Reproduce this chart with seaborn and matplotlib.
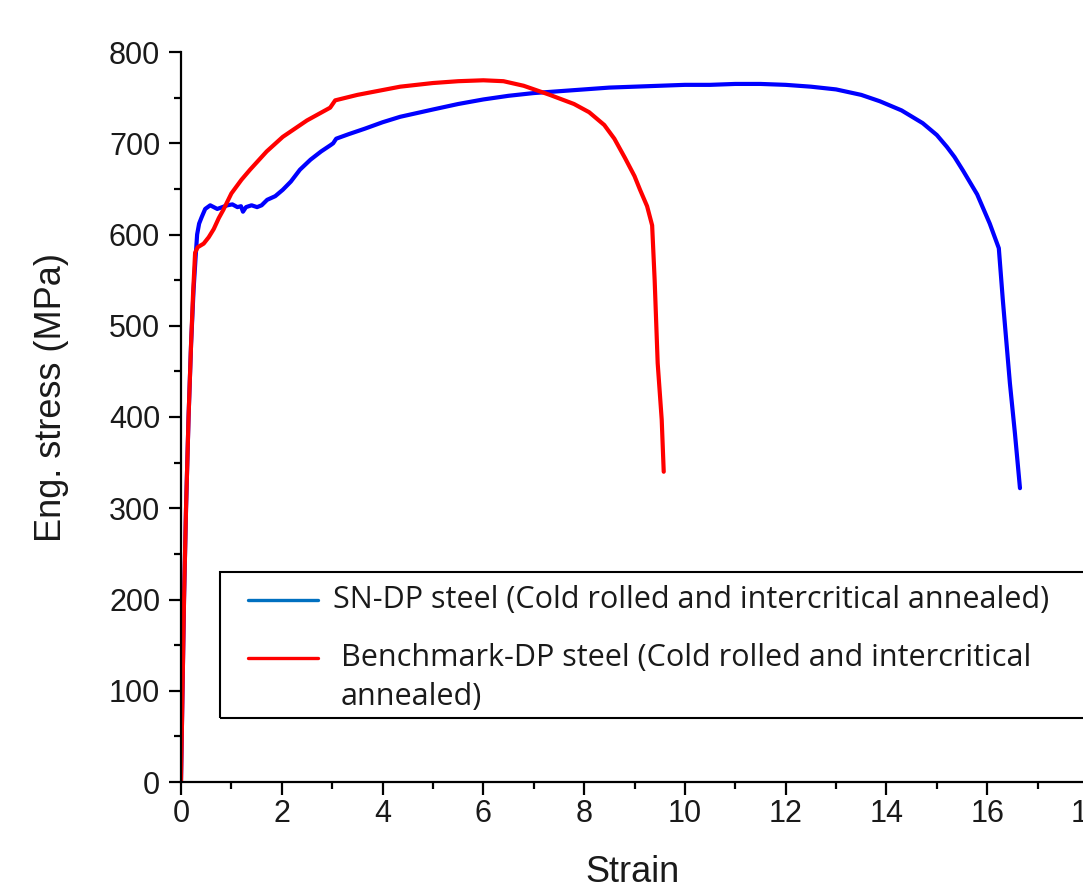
import matplotlib
matplotlib.use("Agg")
import matplotlib.pyplot as plt
import seaborn as sns
import pandas as pd
from matplotlib.lines import Line2D
from matplotlib.patches import Rectangle

# ---- data ----
sn_strain = [0, 0.03, 0.06, 0.10, 0.15, 0.20, 0.25, 0.29, 0.32, 0.36,
             0.41, 0.48, 0.58, 0.65, 0.72, 0.82, 0.92, 1.02, 1.12, 1.19,
             1.23, 1.29, 1.40, 1.51, 1.60, 1.71, 1.87, 2.02, 2.18, 2.36,
             2.57, 2.78, 2.97, 3.02, 3.08, 3.33, 3.65, 4.0, 4.35, 5.0,
             5.5, 6.0, 6.5, 7.0, 7.5, 8.0, 8.5, 9.0, 9.5, 10.0,
             10.5, 11.0, 11.5, 12.0, 12.5, 13.0, 13.5, 13.87, 14.3, 14.72,
             15.0, 15.2, 15.35, 15.52, 15.8, 16.05, 16.23, 16.31, 16.45, 16.55, 16.65]
sn_stress = [0, 100, 200, 300, 400, 480, 540, 575, 600, 612,
             619, 628, 632, 630, 628, 630, 632, 633, 630, 631,
             625, 630, 632, 630, 632, 638, 642, 649, 658, 671,
             682, 691, 698, 700, 705, 710, 716, 723, 729, 737,
             743, 748, 752, 755, 757, 759, 761, 762, 763, 764,
             764, 765, 765, 764, 762, 759, 753, 746, 736, 722,
             709, 696, 685, 670, 644, 612, 585, 528, 437, 382, 322]

bm_strain = [0, 0.03, 0.06, 0.10, 0.15, 0.20, 0.24, 0.28, 0.33, 0.45,
             0.55, 0.65, 0.75, 0.84, 1.0, 1.2, 1.37, 1.7, 2.02, 2.5,
             2.96, 3.06, 3.5, 4.35, 5.0, 5.5, 6.0, 6.4, 6.8, 7.32,
             7.8, 8.1, 8.4, 8.6, 8.81, 9.0, 9.11, 9.25, 9.35, 9.40,
             9.46, 9.54, 9.58]
bm_stress = [0, 100, 200, 300, 400, 480, 536, 580, 586, 590,
             597, 606, 618, 627, 645, 660, 671, 691, 707, 725,
             739, 747, 753, 762, 766, 768, 769, 768, 763, 753,
             743, 734, 720, 705, 684, 664, 649, 631, 610, 550,
             459, 397, 340]

x_ticks = [0, 2, 4, 6, 8, 10, 12, 14, 16, 18]
y_ticks = [0, 100, 200, 300, 400, 500, 600, 700, 800]
label_sn = "SN-DP steel (Cold rolled and intercritical annealed)"
label_bm = "Benchmark-DP steel (Cold rolled and intercritical\nannealed)"

df_sn = pd.DataFrame({"Strain": sn_strain, "Stress": sn_stress})
df_bm = pd.DataFrame({"Strain": bm_strain, "Stress": bm_stress})

sns.set_theme(style="ticks")
plt.rcParams["font.family"] = ["Liberation Sans", "DejaVu Sans"]

W, H = 1083, 891
fig = plt.figure(figsize=(W / 100, H / 100), dpi=100)
left_px, right_px, top_px, bot_px = 181, 1088, 52, 782
ax = fig.add_axes([left_px / W, 1 - bot_px / H, (right_px - left_px) / W, (bot_px - top_px) / H])

sns.lineplot(data=df_sn, x="Strain", y="Stress", color="#0000ff", lw=3.0, sort=False,
             estimator=None, ax=ax, legend=False)
sns.lineplot(data=df_bm, x="Strain", y="Stress", color="#ff0000", lw=3.0, sort=False,
             estimator=None, ax=ax, legend=False)

ax.set_xlim(0, 18)
ax.set_ylim(0, 800)
ax.set_xticks(x_ticks)
ax.set_yticks(y_ticks)
ax.set_xticks([v + 1 for v in x_ticks[:-1]], minor=True)
ax.set_yticks([v + 50 for v in y_ticks[:-1]], minor=True)
ax.set_xticklabels([str(v) for v in x_ticks])
ax.set_yticklabels([str(v) for v in y_ticks])

for s in ["top", "right"]:
    ax.spines[s].set_visible(False)
for s in ["left", "bottom"]:
    ax.spines[s].set_linewidth(1.6)
    ax.spines[s].set_color("black")

ax.tick_params(axis="both", which="major", direction="out", length=9, width=1.6,
               labelsize=22, colors="black", labelcolor="#1a1a1a")
ax.tick_params(axis="both", which="minor", direction="out", length=5, width=1.6, colors="black")
ax.tick_params(axis="x", which="major", pad=3)
ax.tick_params(axis="y", which="major", pad=6)

ax.set_xlabel("Strain", fontsize=26, color="#1a1a1a")
ax.set_ylabel("Eng. stress (MPa)", fontsize=26, color="#1a1a1a")
ax.xaxis.set_label_coords((633 - left_px) / (right_px - left_px), (bot_px - 872) / (bot_px - top_px))
ax.yaxis.set_label_coords((52 - left_px) / (right_px - left_px), (bot_px - 398) / (bot_px - top_px))
ax.xaxis.label.set_va("center")
ax.yaxis.label.set_va("center")
ax.set_facecolor("white")
fig.patch.set_facecolor("white")

# legend frame (extends beyond the right edge, as in the reference)
x0 = (220 - left_px) / (right_px - left_px)
y0 = (bot_px - 718) / (bot_px - top_px)
y1 = (bot_px - 572) / (bot_px - top_px)
ax.add_patch(Rectangle((x0, y0), 1.2, y1 - y0, transform=ax.transAxes, fill=False,
                       edgecolor="black", lw=1.5, clip_on=False, zorder=5))

# legend entries
leg_font = {"family": "Open Sans", "size": 22}
def fx(px):
    return px / W
def fy(py):
    return 1 - py / H

fig.add_artist(Line2D([fx(248), fx(318)], [fy(600), fy(600)], color="#0070c0", lw=2.4))
fig.add_artist(Line2D([fx(248), fx(318)], [fy(658), fy(658)], color="#ff0000", lw=2.4))
fig.text(fx(333), fy(600), label_sn, va="center", ha="left", color="#1a1a1a", **leg_font)
bm_lines = label_bm.split("\n")
fig.text(fx(341), fy(658), bm_lines[0], va="center", ha="left", color="#1a1a1a", **leg_font)
fig.text(fx(341), fy(697), bm_lines[1], va="center", ha="left", color="#1a1a1a", **leg_font)

fig.savefig("out.png", dpi=100, facecolor="white")
